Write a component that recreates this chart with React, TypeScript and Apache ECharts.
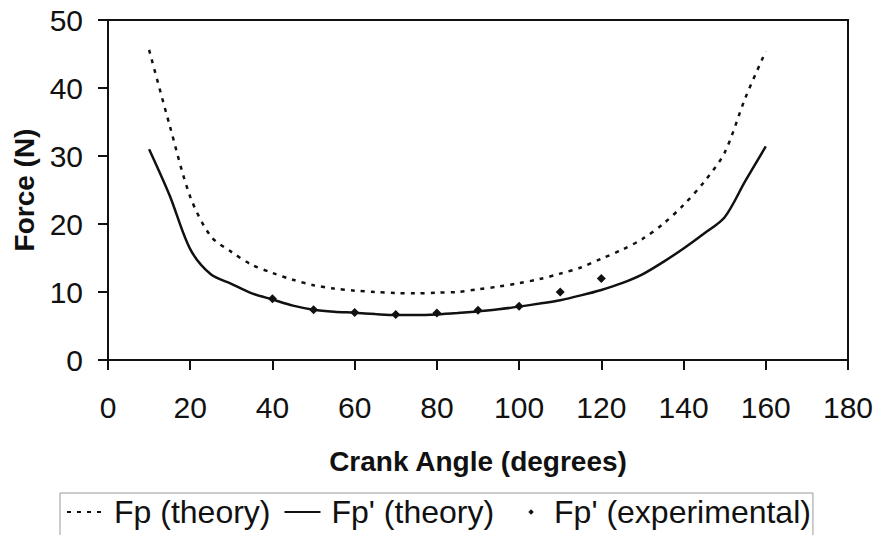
import React, { useEffect, useRef } from "react";
import * as echarts from "echarts";

const angles = [10, 15, 20, 25, 30, 35, 40, 45, 50, 55, 60, 65, 70, 75, 80, 85, 90, 95, 100, 105, 110, 115, 120, 125, 130, 135, 140, 145, 150, 155, 160];
const fpTheory = [45.6, 34.5, 24.0, 18.2, 15.9, 14.0, 12.8, 11.8, 11.0, 10.5, 10.2, 10.0, 9.85, 9.8, 9.9, 10.0, 10.4, 10.8, 11.3, 11.9, 12.7, 13.6, 14.9, 16.2, 17.8, 20.0, 22.8, 26.2, 30.5, 38.5, 45.4];
const fpPrimeTheory = [31.0, 24.2, 16.3, 12.6, 11.2, 9.8, 8.9, 8.0, 7.4, 7.1, 6.95, 6.75, 6.6, 6.6, 6.7, 6.9, 7.15, 7.45, 7.85, 8.3, 8.8, 9.5, 10.3, 11.3, 12.6, 14.4, 16.4, 18.6, 21.0, 26.3, 31.4];
const expAngles = [40, 50, 60, 70, 80, 90, 100, 110, 120];
const fpPrimeExp = [9.0, 7.4, 7.0, 6.7, 6.9, 7.3, 7.9, 10.0, 12.0];

const xTicks = { min: 0, max: 180, interval: 20 };
const yTicks = { min: 0, max: 50, interval: 10 };

const FONT = "'Liberation Sans', Arial, Helvetica, sans-serif";
const INK = "#111";

const dotIconSvg =
  '<svg xmlns="http://www.w3.org/2000/svg" width="36" height="8" viewBox="0 0 36 8">' +
  '<path d="M24 1.3 L26.7 4 L24 6.7 L21.3 4 Z" fill="#111"/></svg>';
const dotIcon = "image://data:image/svg+xml;charset=utf-8," + encodeURIComponent(dotIconSvg);

export default function App() {
  const ref = useRef<HTMLDivElement>(null);
  useEffect(() => {
    if (!ref.current) return;
    const chart = echarts.init(ref.current, null, { renderer: "svg" });
    chart.setOption({
      animation: false,
      backgroundColor: "#fff",
      textStyle: { fontFamily: FONT, color: INK },
      grid: {
        left: 108, right: 32, top: 20, bottom: 175,
        show: true, borderColor: INK, borderWidth: 2, backgroundColor: "transparent",
      },
      legend: {
        left: 60, top: 493,
        padding: [3, 2, 12, 6],
        borderColor: "#999", borderWidth: 1,
        itemWidth: 36, itemHeight: 8, itemGap: 13,
        textStyle: { fontSize: 32, color: INK, fontFamily: FONT, padding: [0, 0, 0, 6] },
        data: [
          { name: "Fp (theory)", itemStyle: { color: "rgba(0,0,0,0)", borderWidth: 0 } },
          { name: "Fp' (theory)", itemStyle: { color: "rgba(0,0,0,0)", borderWidth: 0 } },
          { name: "Fp' (experimental)", icon: dotIcon },
        ],
      },
      xAxis: {
        type: "value",
        min: xTicks.min, max: xTicks.max, interval: xTicks.interval,
        name: "Crank Angle (degrees)",
        nameLocation: "middle", nameGap: 87,
        nameTextStyle: { fontSize: 28, fontWeight: "bold", color: INK, fontFamily: FONT },
        axisLine: { show: true, lineStyle: { color: INK, width: 2 } },
        axisTick: { show: true, inside: false, length: 10, lineStyle: { color: INK, width: 2 } },
        axisLabel: { fontSize: 30, color: INK, margin: 32, fontFamily: FONT },
        splitLine: { show: false },
      },
      yAxis: {
        type: "value",
        min: yTicks.min, max: yTicks.max, interval: yTicks.interval,
        name: "Force (N)",
        nameLocation: "middle", nameGap: 70,
        nameTextStyle: { fontSize: 28, fontWeight: "bold", color: INK, fontFamily: FONT },
        axisLine: { show: true, lineStyle: { color: INK, width: 2 } },
        axisTick: { show: true, inside: false, length: 10, lineStyle: { color: INK, width: 2 } },
        axisLabel: { fontSize: 30, color: INK, margin: 25, fontFamily: FONT },
        splitLine: { show: false },
      },
      series: [
        {
          name: "Fp (theory)",
          type: "line",
          data: angles.map((a, i) => [a, fpTheory[i]]),
          symbol: "none",
          smooth: 0.3,
          lineStyle: { color: INK, width: 2.5, type: [4, 6] },
          itemStyle: { color: INK },
        },
        {
          name: "Fp' (theory)",
          type: "line",
          data: angles.map((a, i) => [a, fpPrimeTheory[i]]),
          symbol: "none",
          smooth: 0.3,
          lineStyle: { color: INK, width: 2.5 },
          itemStyle: { color: INK },
        },
        {
          name: "Fp' (experimental)",
          type: "scatter",
          data: expAngles.map((a, i) => [a, fpPrimeExp[i]]),
          symbol: "diamond",
          symbolSize: 9,
          itemStyle: { color: INK, opacity: 1 },
        },
      ],
    });
    return () => chart.dispose();
  }, []);
  return <div ref={ref} style={{ width: 880, height: 535, position: "absolute", left: 0, top: 0 }} />;
}
